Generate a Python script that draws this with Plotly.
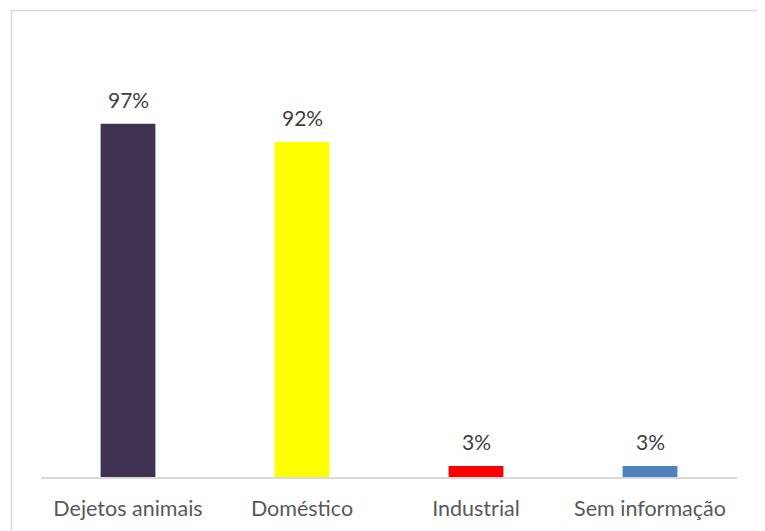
import plotly.graph_objects as go

categories = ["Dejetos animais", "Doméstico", "Industrial", "Sem informação"]
values = [0.97, 0.92, 0.03, 0.03]
labels = ["97%", "92%", "3%", "3%"]
colors = ["#3F3151", "#FFFF00", "#FF0000", "#4F81BD"]

FONT = "Lato"
fig = go.Figure(go.Bar(
    x=categories, y=values, marker_color=colors, marker_line_width=0,
))

W, H = 765, 531
OFF = 8  # page body margin
ml, mr = 41 - OFF, 765 - (737 - OFF)
mt, mb = 40 - OFF, 531 - (477 - OFF)
pw, ph = W - ml - mr, H - mt - mb

for c, v, t in zip(categories, values, labels):
    fig.add_annotation(x=c, y=v, text=t, showarrow=False, yanchor="bottom",
                       yshift=10, font=dict(size=21, color="#404040", family=FONT))

fig.update_layout(
    width=W, height=H,
    margin=dict(l=ml, r=mr, t=mt, b=mb, pad=0),
    paper_bgcolor="white", plot_bgcolor="white",
    bargap=0.685, showlegend=False,
    font=dict(family=FONT, size=21, color="#595959"),
    xaxis=dict(showline=True, linecolor="#D9D9D9", linewidth=1.5, ticks="",
               ticklabelstandoff=11,
               tickfont=dict(size=21.5, color="#595959", family=FONT), showgrid=False),
    yaxis=dict(range=[0, 1.2], visible=False, showgrid=False),
)
fig.add_shape(type="rect", xref="paper", yref="paper",
              x0=(11.5 - OFF - ml) / pw, x1=1.2, y0=-0.5,
              y1=(H - mb - (10.5 - OFF)) / ph,
              line=dict(color="#D9D9D9", width=1.5), fillcolor="rgba(0,0,0,0)", layer="below")
fig.write_html("out.html")
